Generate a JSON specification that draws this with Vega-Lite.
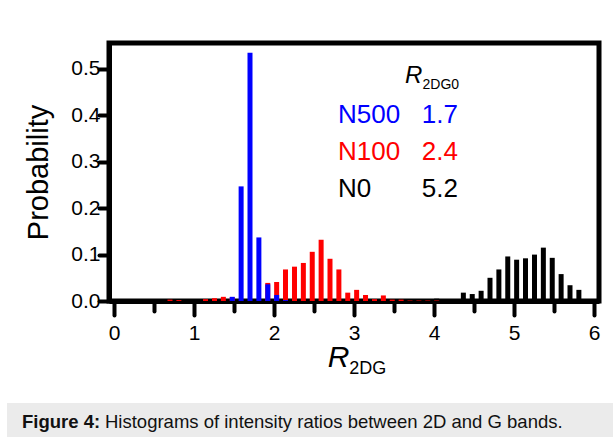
{
  "$schema": "https://vega.github.io/schema/vega-lite/v6.json",
  "background": "white",
  "padding": {"left": 7, "top": 40, "right": 0, "bottom": 0},
  "config": {"font": "Liberation Sans", "view": {"stroke": null}},
  "columns": 1,
  "align": "none",
  "spacing": 22,
  "concat": [
    {
      "spacing": 0,
      "hconcat": [
        {
          "width": 15,
          "height": 10,
          "data": {"values": [{}]},
          "mark": {"type": "point", "opacity": 0},
          "view": {"fill": "white", "stroke": null}
        },
        {
          "width": 490,
          "height": 258,
          "view": {"stroke": "black", "strokeWidth": 5},
          "data": {
            "values": [
              {"series": "N0", "r": 4.033, "p": 0.005},
              {"series": "N0", "r": 4.144, "p": 0.002},
              {"series": "N0", "r": 4.256, "p": 0.004},
              {"series": "N0", "r": 4.367, "p": 0.018},
              {"series": "N0", "r": 4.478, "p": 0.015},
              {"series": "N0", "r": 4.589, "p": 0.022},
              {"series": "N0", "r": 4.7, "p": 0.05},
              {"series": "N0", "r": 4.811, "p": 0.068},
              {"series": "N0", "r": 4.922, "p": 0.096},
              {"series": "N0", "r": 5.033, "p": 0.089},
              {"series": "N0", "r": 5.144, "p": 0.092},
              {"series": "N0", "r": 5.256, "p": 0.1},
              {"series": "N0", "r": 5.367, "p": 0.115},
              {"series": "N0", "r": 5.478, "p": 0.093},
              {"series": "N0", "r": 5.589, "p": 0.058},
              {"series": "N0", "r": 5.7, "p": 0.034},
              {"series": "N0", "r": 5.811, "p": 0.024},
              {"series": "N0", "r": 5.922, "p": 0.004},
              {"series": "N100", "r": 0.7, "p": 0.003},
              {"series": "N100", "r": 0.811, "p": 0.002},
              {"series": "N100", "r": 1.144, "p": 0.004},
              {"series": "N100", "r": 1.256, "p": 0.006},
              {"series": "N100", "r": 1.367, "p": 0.009},
              {"series": "N100", "r": 1.478, "p": 0.008},
              {"series": "N100", "r": 1.922, "p": 0.039},
              {"series": "N100", "r": 2.033, "p": 0.041},
              {"series": "N100", "r": 2.144, "p": 0.068},
              {"series": "N100", "r": 2.256, "p": 0.074},
              {"series": "N100", "r": 2.367, "p": 0.082},
              {"series": "N100", "r": 2.478, "p": 0.106},
              {"series": "N100", "r": 2.589, "p": 0.132},
              {"series": "N100", "r": 2.7, "p": 0.091},
              {"series": "N100", "r": 2.811, "p": 0.068},
              {"series": "N100", "r": 2.922, "p": 0.018},
              {"series": "N100", "r": 3.033, "p": 0.024},
              {"series": "N100", "r": 3.144, "p": 0.013},
              {"series": "N100", "r": 3.256, "p": 0.004},
              {"series": "N100", "r": 3.367, "p": 0.012},
              {"series": "N100", "r": 3.478, "p": 0.003},
              {"series": "N100", "r": 3.589, "p": 0.003},
              {"series": "N100", "r": 3.7, "p": 0.001},
              {"series": "N100", "r": 3.811, "p": 0.001},
              {"series": "N100", "r": 3.922, "p": 0.001},
              {"series": "N100", "r": 4.033, "p": 0.001},
              {"series": "N500", "r": 1.478, "p": 0.009},
              {"series": "N500", "r": 1.589, "p": 0.247},
              {"series": "N500", "r": 1.7, "p": 0.535},
              {"series": "N500", "r": 1.811, "p": 0.137},
              {"series": "N500", "r": 1.922, "p": 0.036},
              {"series": "N500", "r": 2.033, "p": 0.013},
              {"series": "N500", "r": 2.144, "p": 0.002}
            ]
          },
          "layer": [
            {
              "mark": {"type": "bar", "width": 5},
              "encoding": {
                "x": {
                  "field": "r",
                  "type": "quantitative",
                  "scale": {"domain": [0, 6], "nice": false, "zero": false},
                  "axis": {
                    "title": "R",
                    "titleFontStyle": "italic",
                    "titleFontWeight": "normal",
                    "titleFontSize": 30,
                    "titleColor": "black",
                    "titleX": 229,
                    "titleY": 65,
                    "titleBaseline": "alphabetic",
                    "titleAlign": "center",
                    "values": [0, 0.5, 1, 1.5, 2, 2.5, 3, 3.5, 4, 4.5, 5, 5.5, 6],
                    "format": ".0f",
                    "labelExpr": "datum.value % 1 === 0 ? datum.label : ''",
                    "labelFontSize": 21,
                    "labelColor": "black",
                    "labelPadding": 7,
                    "labelOverlap": false,
                    "labelFlush": false,
                    "labelBound": false,
                    "tickSize": {"condition": {"test": "datum.value % 1 === 0", "value": 14}, "value": 10},
                    "tickWidth": 4,
                    "tickColor": "black",
                    "tickCap": "round",
                    "domainWidth": 5,
                    "domainColor": "black",
                    "grid": false
                  }
                },
                "y": {
                  "field": "p",
                  "type": "quantitative",
                  "stack": null,
                  "scale": {"domain": [0, 0.556], "nice": false},
                  "axis": {
                    "title": "Probability",
                    "titleFontSize": 29,
                    "titleFontWeight": "normal",
                    "titleColor": "black",
                    "titlePadding": 17,
                    "values": [0, 0.05, 0.1, 0.15, 0.2, 0.25, 0.3, 0.35, 0.4, 0.45, 0.5],
                    "format": ".1f",
                    "labelExpr": "round(datum.value * 100) % 10 === 0 ? datum.label : ''",
                    "labelFontSize": 21,
                    "labelColor": "black",
                    "labelPadding": -1,
                    "labelOverlap": false,
                    "labelFlush": false,
                    "labelBound": false,
                    "tickSize": {"condition": {"test": "round(datum.value * 100) % 10 === 0", "value": 10}, "value": 8},
                    "tickWidth": 4,
                    "tickColor": "black",
                    "tickCap": "round",
                    "domainWidth": 5,
                    "domainColor": "black",
                    "grid": false
                  }
                },
                "color": {
                  "field": "series",
                  "type": "nominal",
                  "scale": {"domain": ["N500", "N100", "N0"], "range": ["#0000ff", "#ff0000", "#000000"]},
                  "legend": {
                    "orient": "none",
                    "legendX": 305,
                    "legendY": 59,
                    "title": null,
                    "labelFontSize": 26,
                    "labelLimit": 400,
                    "labelOffset": 0,
                    "symbolSize": 0,
                    "symbolOpacity": 0,
                    "symbolStrokeWidth": 0,
                    "rowPadding": 11,
                    "labelExpr": "datum.label === 'N500' ? 'N500\u00a0\u00a0\u00a01.7' : datum.label === 'N100' ? 'N100\u00a0\u00a0\u00a02.4' : 'N0\u00a0\u00a0\u00a0\u00a0\u00a0\u00a0\u00a05.2'",
                    "encode": {
                      "labels": {
                        "update": {
                          "fill": [
                            {"test": "datum.value === 'N500'", "value": "#0000ff"},
                            {"test": "datum.value === 'N100'", "value": "#ff0000"},
                            {"value": "#000000"}
                          ]
                        }
                      }
                    }
                  }
                }
              }
            },
            {
              "data": {"values": [{}]},
              "mark": {"type": "text", "text": "R", "fontSize": 24, "fontStyle": "italic", "align": "left", "baseline": "alphabetic", "color": "black"},
              "encoding": {"x": {"datum": 3.637}, "y": {"datum": 0.47}}
            },
            {
              "data": {"values": [{}]},
              "mark": {"type": "text", "text": "2DG0", "fontSize": 14, "align": "left", "baseline": "alphabetic", "color": "black"},
              "encoding": {"x": {"datum": 3.857}, "y": {"datum": 0.457}}
            },
            {
              "data": {"values": [{}]},
              "mark": {"type": "text", "text": "2DG", "fontSize": 18, "align": "left", "baseline": "alphabetic", "color": "black"},
              "encoding": {"x": {"datum": 2.94}, "y": {"datum": -0.157}}
            }
          ]
        }
      ]
    },
    {
      "width": 606,
      "height": 37,
      "view": {"fill": "#ebebeb", "stroke": null},
      "data": {"values": [{"head": "Figure 4:", "body": "Histograms of intensity ratios between 2D and G bands."}]},
      "layer": [
        {
          "mark": {"type": "text", "align": "left", "baseline": "middle", "fontWeight": "bold", "fontSize": 18.5, "x": 15, "color": "#111111"},
          "encoding": {"text": {"field": "head"}}
        },
        {
          "mark": {"type": "text", "align": "left", "baseline": "middle", "fontSize": 18.5, "x": 98, "color": "#111111"},
          "encoding": {"text": {"field": "body"}}
        }
      ]
    }
  ]
}
